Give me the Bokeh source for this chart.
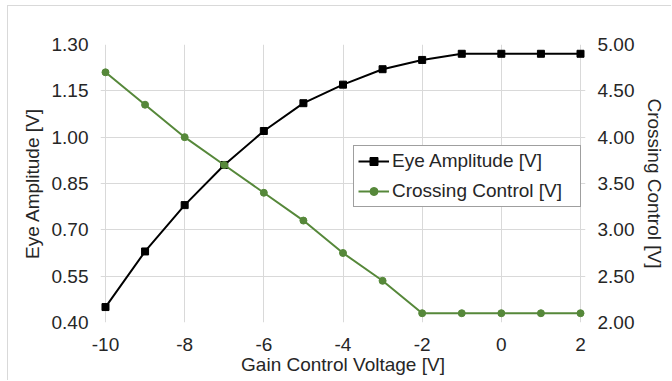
from bokeh.plotting import figure
from bokeh.models import (Range1d, LinearAxis, FixedTicker, NumeralTickFormatter,
                          Legend, LegendItem)
from bokeh.embed import file_html
from bokeh.resources import INLINE

# Gain control sweep
gain_voltage = [-10, -9, -8, -7, -6, -5, -4, -3, -2, -1, 0, 1, 2]
eye_amplitude = [0.45, 0.63, 0.78, 0.91, 1.02, 1.11, 1.17, 1.22, 1.25, 1.27, 1.27, 1.27, 1.27]
crossing_control = [4.70, 4.35, 4.00, 3.70, 3.40, 3.10, 2.75, 2.45, 2.10, 2.10, 2.10, 2.10, 2.10]

x_ticks = [-10, -8, -6, -4, -2, 0, 2]
x_tick_labels = ["-10", "-8", "-6", "-4", "-2", "0", "2"]
left_ticks = [0.40, 0.55, 0.70, 0.85, 1.00, 1.15, 1.30]
right_ticks = [2.00, 2.50, 3.00, 3.50, 4.00, 4.50, 5.00]

FONT = "Liberation Sans"
GRID = "#d9d9d9"
TEXT = "#262626"
GREEN = "#56883a"
SIZE = "19px"

# x range carries a little room either side of -10 and 2 so the
# horizontal grid lines run slightly past the outermost verticals
p = figure(width=664, height=375, output_backend="svg", toolbar_location=None,
           x_range=Range1d(-10.126, 2.126), y_range=Range1d(0.40, 1.30),
           min_border_left=92, min_border_right=87, min_border_top=38,
           min_border_bottom=59)
p.styles = {"margin-left": "7px", "margin-top": "5px",
            "border-left": f"1px solid {GRID}", "border-top": f"1px solid {GRID}"}
p.extra_y_ranges = {"right": Range1d(2.0, 5.0)}
p.outline_line_color = None
p.background_fill_color = "white"
p.border_fill_color = "white"

def style_axis(ax, standoff, title_standoff):
    ax.axis_line_color = None
    ax.major_tick_out = 0
    ax.major_tick_in = 0
    ax.minor_tick_line_color = None
    ax.major_label_text_font = FONT
    ax.major_label_text_font_size = SIZE
    ax.major_label_text_color = TEXT
    ax.major_label_standoff = standoff
    ax.axis_label_text_font = FONT
    ax.axis_label_text_font_size = SIZE
    ax.axis_label_text_font_style = "normal"
    ax.axis_label_text_color = TEXT
    ax.axis_label_standoff = title_standoff

xa = p.xaxis[0]
xa.ticker = FixedTicker(ticks=x_ticks)
xa.major_label_overrides = dict(zip(x_ticks, x_tick_labels))
xa.axis_label = "Gain Control Voltage [V]"
style_axis(xa, 15, 0)

ya = p.yaxis[0]
ya.ticker = FixedTicker(ticks=left_ticks)
ya.formatter = NumeralTickFormatter(format="0.00")
ya.axis_label = "Eye Amplitude [V]"
style_axis(ya, 12, 6)

ra = LinearAxis(y_range_name="right", ticker=FixedTicker(ticks=right_ticks),
                formatter=NumeralTickFormatter(format="0.00"),
                axis_label="Crossing Control [V]")
style_axis(ra, 12, 7)
p.add_layout(ra, "right")

p.xgrid.ticker = FixedTicker(ticks=x_ticks)
p.ygrid.ticker = FixedTicker(ticks=left_ticks)
p.grid.grid_line_color = GRID
p.grid.grid_line_width = 1

eye_line = p.line(gain_voltage, eye_amplitude, line_color="black", line_width=2)
# smaller markers underneath the plotted points serve as the legend keys
eye_key = p.scatter(gain_voltage, eye_amplitude, marker="square", size=5,
                    fill_color="black", line_color="black")
p.scatter(gain_voltage, eye_amplitude, marker="square", size=7,
          fill_color="black", line_color="black")

cc_line = p.line(gain_voltage, crossing_control, y_range_name="right",
                 line_color=GREEN, line_width=2)
cc_key = p.scatter(gain_voltage, crossing_control, y_range_name="right",
                   marker="circle", size=5, fill_color=GREEN, line_color=GREEN)
p.scatter(gain_voltage, crossing_control, y_range_name="right",
          marker="circle", size=7, fill_color=GREEN, line_color=GREEN)

legend = Legend(items=[
    LegendItem(label="Eye Amplitude [V]", renderers=[eye_line, eye_key]),
    LegendItem(label="Crossing Control [V]", renderers=[cc_line, cc_key]),
], location=(253, 115))
legend.label_text_font = FONT
legend.label_text_font_size = SIZE
legend.label_text_color = TEXT
legend.border_line_color = "#404040"
legend.border_line_width = 1
legend.background_fill_alpha = 1
legend.glyph_width = 31
legend.glyph_height = 20
legend.label_height = 20
legend.label_width = 184
legend.spacing = 8
legend.padding = 4
legend.margin = 0
legend.label_standoff = 3
p.add_layout(legend, "center")

open("out.html", "w").write(file_html(p, INLINE))
